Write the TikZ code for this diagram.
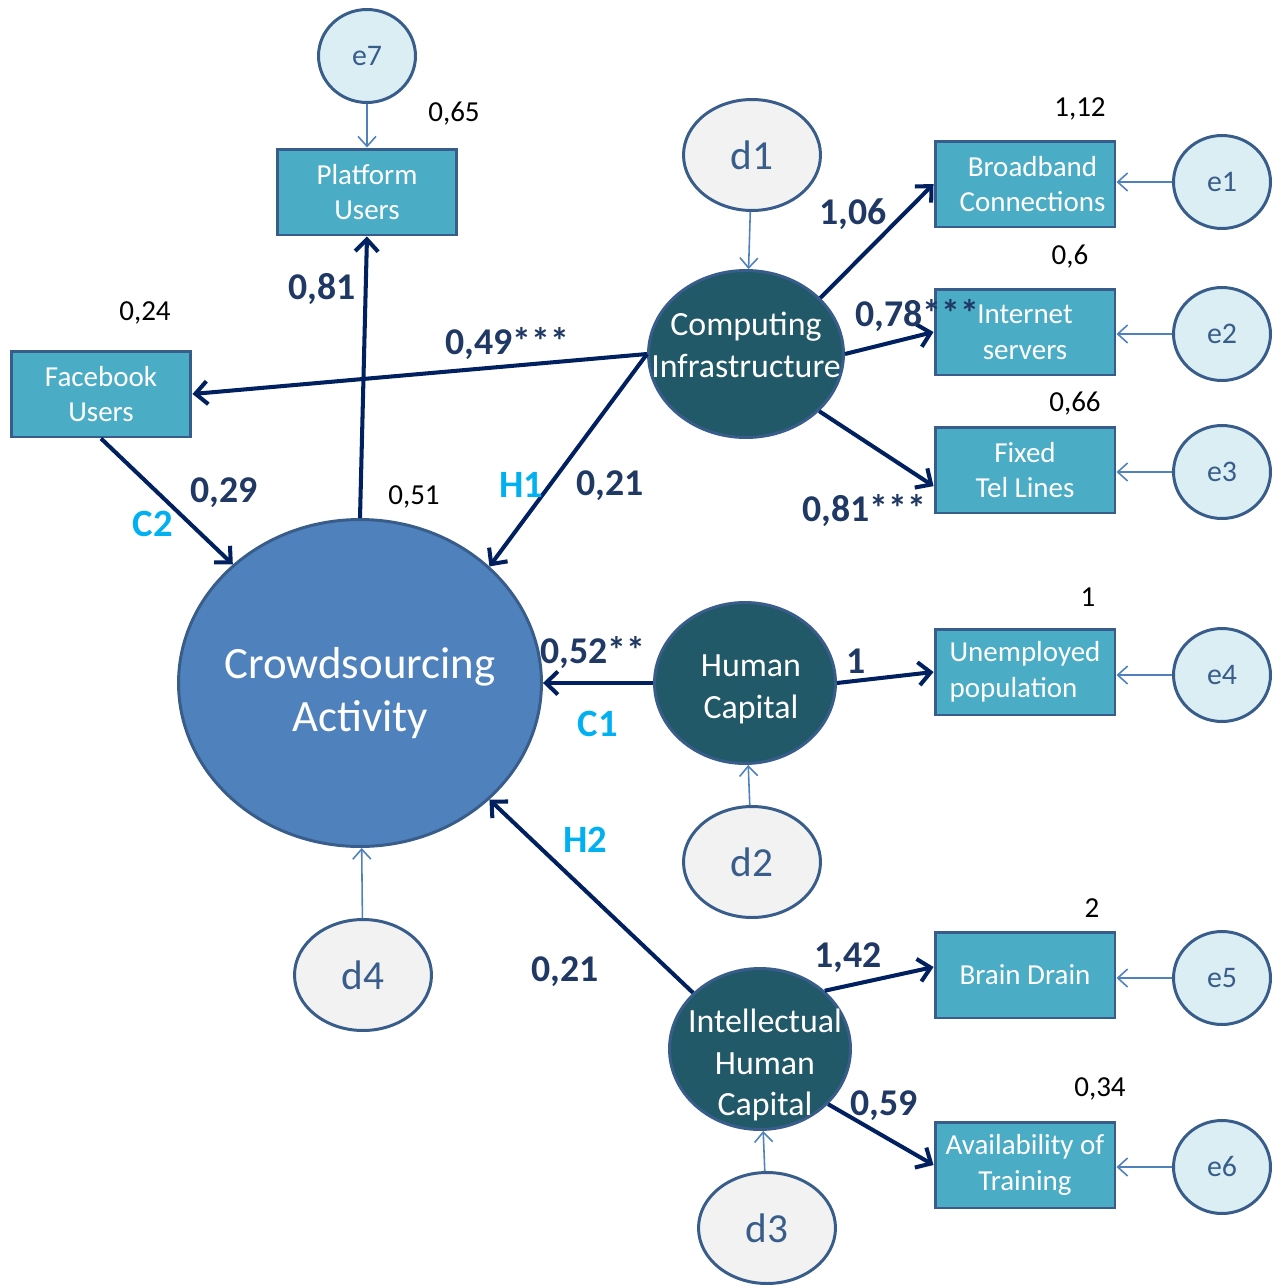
\documentclass[tikz,border=0pt]{standalone}
\usepackage{fontspec}
\setmainfont{Carlito}
\usetikzlibrary{arrows.meta,shapes.geometric}
\definecolor{boxfill}{RGB}{75,172,198}
\definecolor{edgeblue}{RGB}{56,93,138}
\definecolor{latfill}{RGB}{33,89,104}
\definecolor{bigfill}{RGB}{79,129,189}
\definecolor{errfill}{RGB}{218,238,243}
\definecolor{disfill}{RGB}{242,242,242}
\definecolor{pathnavy}{RGB}{0,32,96}
\definecolor{thinblue}{RGB}{79,129,189}
\definecolor{coefblue}{RGB}{31,56,100}
\definecolor{hypcyan}{RGB}{0,176,240}

\begin{document}
\begin{tikzpicture}[x=0.02cm,y=-0.02cm,
  obs/.style={rectangle,draw=edgeblue,line width=1.7pt,fill=boxfill,text=white,minimum width=3.6cm,minimum height=1.72cm,align=center,inner sep=1pt,font=\fontsize{16.5}{20.4}\selectfont},
  lat/.style={ellipse,draw=edgeblue,line width=1.7pt,fill=latfill,inner sep=0pt},
  lab/.style={text=white,align=center,inner sep=0pt},
  err/.style={ellipse,draw=edgeblue,line width=1.7pt,fill=errfill,text=edgeblue,minimum width=1.94cm,minimum height=1.86cm,inner sep=0pt,font=\fontsize{17}{20}\selectfont},
  dis/.style={ellipse,draw=edgeblue,line width=1.7pt,fill=disfill,text=edgeblue,minimum width=2.74cm,minimum height=2.22cm,inner sep=0pt,font=\fontsize{23.5}{26}\selectfont},
  pth/.style={draw=pathnavy,line width=2.3pt,-{Straight Barb[length=2.4mm,width=4.6mm]}},
  thin/.style={draw=thinblue,line width=0.9pt,-{Straight Barb[length=2mm,width=3.6mm]}},
  coef/.style={text=coefblue,font=\bfseries\fontsize{21.5}{24}\selectfont,inner sep=0pt},
  hyp/.style={text=hypcyan,font=\bfseries\fontsize{22}{24}\selectfont,inner sep=0pt},
  var/.style={text=black,font=\fontsize{16.5}{19}\selectfont,inner sep=0pt}]
\useasboundingbox (0,0) rectangle (1275,1285);
% latent variables
\node[lat,fill=bigfill,minimum width=7.26cm,minimum height=6.54cm,
  label={[lab,font=\fontsize{25.5}{30.6}\selectfont,yshift=-0.2cm]center:{Crowdsourcing\\Activity}}] (ca) at (360,683) {};
\node[lat,minimum width=3.9cm,minimum height=3.34cm,
  label={[lab,font=\fontsize{19.3}{23.8}\selectfont,yshift=0.18cm]center:{Computing\\Infrastructure}}] (ci) at (746,354) {};
\node[lat,minimum width=3.62cm,minimum height=3.22cm,
  label={[lab,font=\fontsize{19.3}{23.8}\selectfont,yshift=-0.12cm,xshift=0.12cm]center:{Human\\Capital}}] (hc) at (745,683) {};
\node[lat,minimum width=3.62cm,minimum height=3.22cm,
  label={[lab,font=\fontsize{19.3}{23.8}\selectfont,yshift=-0.32cm,xshift=0.1cm]center:{Intellectual\\Human\\Capital}}] (ihc) at (760,1049) {};
% observed variables
\node[obs] (pu) at (367,192) {Platform\\Users};
\node[obs] (fb) at (101,394) {Facebook\\Users};
\node[obs] (bb) at (1025,184) {\hspace*{0.3cm}Broadband\\\hspace*{0.3cm}Connections};
\node[obs] (is) at (1025,332) {Internet\\servers};
\node[obs] (ft) at (1025,470) {Fixed\\Tel Lines};
\node[obs,align=left] (up) at (1025,672) {Unemployed\\population};
\node[obs] (bd) at (1025,975) {Brain Drain};
\node[obs] (at) at (1025,1165) {Availability of\\Training};
% errors and disturbances
\node[err] (e7) at (367,56) {e7};
\node[err] (e1) at (1222,182) {e1};
\node[err] (e2) at (1222,334) {e2};
\node[err] (e3) at (1222,472) {e3};
\node[err] (e4) at (1222,675) {e4};
\node[err] (e5) at (1222,978) {e5};
\node[err] (e6) at (1222,1167) {e6};
\node[dis] (d1) at (752,155) {d1};
\node[dis] (d2) at (752,862) {d2};
\node[dis] (d3) at (767,1228) {d3};
\node[dis] (d4) at (363,975) {d4};
% thin arrows
\draw[thin] (e7) -- (pu);
\foreach \e/\o in {e1/bb,e2/is,e3/ft,e4/up,e5/bd,e6/at}
  \draw[thin] (\e) -- (\o.east |- \e);
\draw[thin] (d1) -- (ci);
\draw[thin] (d2) -- (hc);
\draw[thin] (d3) -- (ihc);
\draw[thin] (d4) -- (ca);
% structural paths
\draw[pth] (ca.north) -- (pu.south);
\draw[pth] (ci.west) -- (fb.east);
\draw[pth] (fb.south) -- (ca.137);
\draw[pth] (ci.west) -- (ca.42);
\draw[pth] (hc.west) -- (ca.east);
\draw[pth] (ihc.140) -- (ca.-42);
\draw[pth] (ci.37) -- (bb.west);
\draw[pth] (ci.east) -- (is.west);
\draw[pth] (ci.-38) -- (ft.190);
\draw[pth] (hc.east) -- (up.west);
\draw[pth] (ihc.42) -- (bd.175);
\draw[pth] (ihc.-39) -- (at.west);
% coefficients
\node[coef] (k1) at (322,289) {0,81};
\node[coef] (k2) at (507,344) {0,49***};
\node[coef] (k3) at (224,493) {0,29};
\node[coef] (k4) at (610,486) {0,21};
\node[coef] (k5) at (853,214) {1,06};
\node[coef] (k6) at (917,316) {0,78***};
\node[coef] (k7) at (864,511) {0,81***};
\node[coef] (k8) at (593,653) {0,52**};
\node[coef] (k9) at (856,661) {1};
\node[coef] (k10) at (565,972) {0,21};
\node[coef] (k11) at (848,958) {1,42};
\node[coef] (k12) at (884,1106) {0,59};
% hypotheses
\node[hyp] (h1) at (521,485) {H1};
\node[hyp] (h2) at (585,840) {H2};
\node[hyp] (c1) at (598,724) {C1};
\node[hyp] (c2) at (153,524) {C2};
% explained variances
\node[var] (r1) at (454,114) {0,65};
\node[var] (r2) at (145,313) {0,24};
\node[var] (r3) at (414,497) {0,51};
\node[var] (r4) at (1080,109) {1,12};
\node[var] (r5) at (1070,257) {0,6};
\node[var] (r6) at (1075,404) {0,66};
\node[var] (r7) at (1088,597) {1};
\node[var] (r8) at (1092,908) {2};
\node[var] (r9) at (1100,1089) {0,34};
\end{tikzpicture}
\end{document}
